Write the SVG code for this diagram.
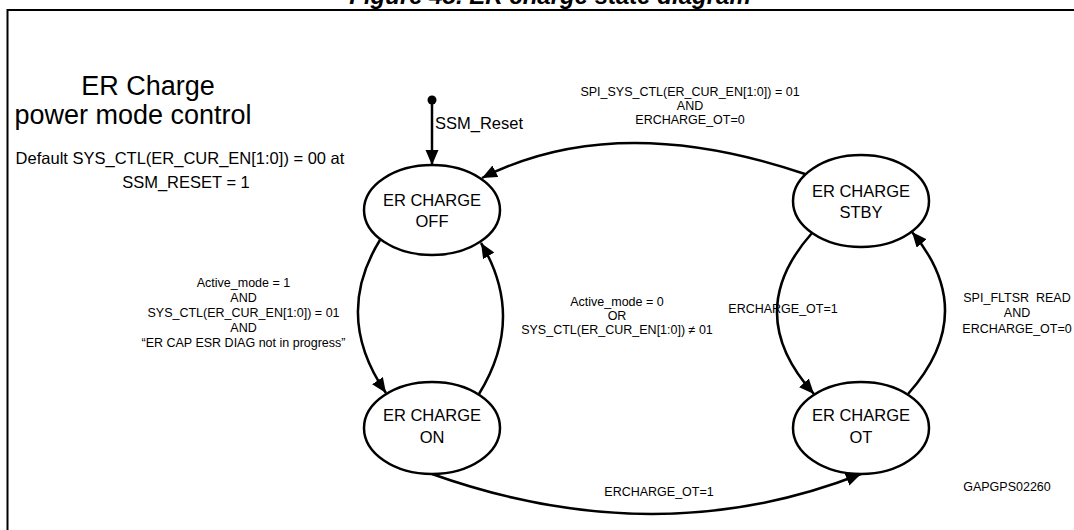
<svg xmlns="http://www.w3.org/2000/svg" width="1074" height="530" viewBox="0 0 1074 530">
<defs>
<style>
.node{fill:#fff;stroke:#000;stroke-width:2.5}
.nt{font-family:"Liberation Sans",Arial,sans-serif;font-size:16.5px;fill:#000;text-anchor:middle}
.lbl{font-family:"Liberation Sans",Arial,sans-serif;font-size:12.5px;fill:#000;text-anchor:middle}
.edge{fill:none;stroke:#000;stroke-width:2.5}
</style>
<marker id="ah" markerUnits="userSpaceOnUse" markerWidth="16" markerHeight="14" refX="15" refY="6.5" orient="auto">
<path d="M0,0 L15,6.5 L0,13 z" fill="#000"/>
</marker>
</defs>
<rect width="1074" height="530" fill="#fff"/>
<text x="550" y="4" font-family="Liberation Sans,Arial,sans-serif" font-size="24" font-weight="bold" font-style="italic" text-anchor="middle">Figure 48. ER charge state diagram</text>
<path d="M7.5,540 V10 H1090" fill="none" stroke="#000" stroke-width="2"/>
<g id="title-block" font-family="Liberation Sans,Arial,sans-serif" fill="#000">
<text x="148" y="95" font-size="27" text-anchor="middle">ER Charge</text>
<text x="133" y="124" font-size="27" text-anchor="middle">power mode control</text>
<text x="180" y="164" font-size="16.5" text-anchor="middle">Default SYS_CTL(ER_CUR_EN[1:0]) = 00 at</text>
<text x="186" y="188" font-size="16.5" text-anchor="middle">SSM_RESET = 1</text>
</g>
<g id="connectors">
<circle cx="432" cy="100" r="4.5" fill="#000"/>
<path class="edge" d="M432,100 V165" marker-end="url(#ah)"/>
<path class="edge" d="M805,174 Q616,110 482,178" marker-end="url(#ah)"/>
<path class="edge" d="M380,240 Q333,316 386,393" marker-end="url(#ah)"/>
<path class="edge" d="M479,394 Q526,318 481,243" marker-end="url(#ah)"/>
<path class="edge" d="M812,233 Q741,313 814,394" marker-end="url(#ah)"/>
<path class="edge" d="M908,394 Q980,313 912,232" marker-end="url(#ah)"/>
<path class="edge" d="M432,474 Q657,554 861,474" marker-end="url(#ah)"/>
<text x="435" y="129" font-family="Liberation Sans,Arial,sans-serif" font-size="16.5">SSM_Reset</text>
<text class="lbl" x="690" y="96">SPI_SYS_CTL(ER_CUR_EN[1:0]) = 01</text>
<text class="lbl" x="690" y="110">AND</text>
<text class="lbl" x="690" y="124">ERCHARGE_OT=0</text>
<text class="lbl" x="243.5" y="287">Active_mode = 1</text>
<text class="lbl" x="243.5" y="302">AND</text>
<text class="lbl" x="243.5" y="317">SYS_CTL(ER_CUR_EN[1:0]) = 01</text>
<text class="lbl" x="243.5" y="332">AND</text>
<text class="lbl" x="243.5" y="347">“ER CAP ESR DIAG not in progress”</text>
<text class="lbl" x="617" y="306">Active_mode = 0</text>
<text class="lbl" x="617" y="320">OR</text>
<text class="lbl" x="617" y="334">SYS_CTL(ER_CUR_EN[1:0]) ≠ 01</text>
<text class="lbl" x="783" y="312.5" text-anchor="start">ERCHARGE_OT=1</text>
<text class="lbl" x="1017" y="301.5" xml:space="preserve">SPI_FLTSR  READ</text>
<text class="lbl" x="1017" y="317">AND</text>
<text class="lbl" x="1017" y="332.5">ERCHARGE_OT=0</text>
<text class="lbl" x="659" y="496">ERCHARGE_OT=1</text>
</g>
<g id="node-off">
<ellipse class="node" cx="432" cy="210" rx="68" ry="45"/>
<text class="nt" x="432" y="205.5">ER CHARGE</text>
<text class="nt" x="432" y="226.5">OFF</text>
</g>
<g id="node-stby">
<ellipse class="node" cx="861" cy="201" rx="68" ry="46"/>
<text class="nt" x="861" y="196.5">ER CHARGE</text>
<text class="nt" x="861" y="217.5">STBY</text>
</g>
<g id="node-on">
<ellipse class="node" cx="432" cy="428" rx="68" ry="46"/>
<text class="nt" x="432" y="421">ER CHARGE</text>
<text class="nt" x="432" y="443">ON</text>
</g>
<g id="node-ot">
<ellipse class="node" cx="861" cy="428" rx="68" ry="46"/>
<text class="nt" x="861" y="421">ER CHARGE</text>
<text class="nt" x="861" y="443">OT</text>
</g>
<text class="lbl" x="1007" y="491">GAPGPS02260</text>
</svg>
